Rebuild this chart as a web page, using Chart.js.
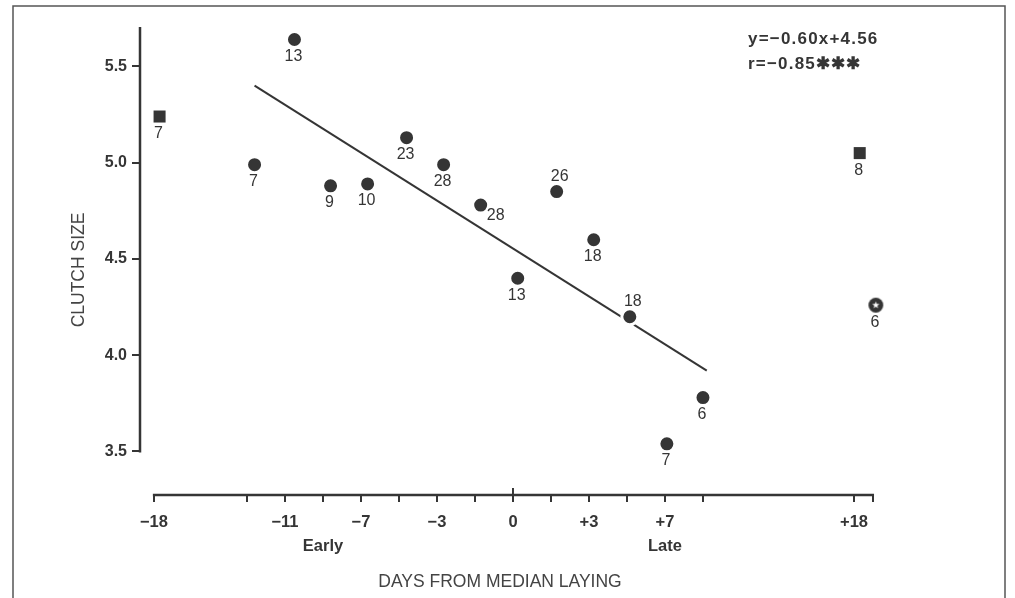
<!DOCTYPE html>
<html>
<head>
<meta charset="utf-8">
<script src="https://cdn.jsdelivr.net/npm/chart.js@4.4.1/dist/chart.umd.min.js"></script>
<style>
html,body{margin:0;padding:0;background:#fff;overflow:hidden}
#wrap{position:relative;width:1015px;height:598px}
</style>
</head>
<body>
<div id="wrap"><canvas id="c" width="1015" height="598"></canvas></div>
<script>
// x values are positions on the printed axis (1 unit = half of one tick interval, 0 = median laying date)
const mainX = [-13.6, -11.5, -9.6, -7.65, -5.6, -3.65, -1.7, 0.25, 2.3, 4.25, 6.15, 8.1, 10.0];
const mainY = [4.99, 5.64, 4.88, 4.89, 5.13, 4.99, 4.78, 4.40, 4.85, 4.60, 4.20, 3.54, 3.78];
const mainN = [7, 13, 9, 10, 23, 28, 28, 13, 26, 18, 18, 7, 6];
const mainLabelSide = ['below','below','below','below','below','below','right','below','above','below','above','below','below'];

const edgeX = [-18.6, 18.25];
const edgeY = [5.24, 5.05];
const edgeN = [7, 8];
const edgeLabelSide = ['below','below'];

const starX = [19.1];
const starY = [4.26];
const starN = [6];
const starLabelSide = ['below'];

const fitX = [-13.6, 10.2];
const fitY = [5.40, 3.92];

const xTickValues = [-18.9, -14, -12, -10, -8, -6, -4, -2, 0, 2, 4, 6, 8, 10, 17.95, 18.95];
const xTickLabels = ['−18', '', '−11', ['', 'Early'], '−7', '', '−3', '', '0', '', '+3', '', ['+7', 'Late'], '', '+18', ''];
const yTickValues = [3.5, 4.0, 4.5, 5.0, 5.5];
const yTickLabels = ['3.5', '4.0', '4.5', '5.0', '5.5'];

const equationLines = ['y=−0.60x+4.56', 'r=−0.85✱✱✱'];
const xTitle = 'DAYS FROM MEDIAN LAYING';
const yTitle = 'CLUTCH SIZE';

const FONT = '"Liberation Sans", Arial, Helvetica, sans-serif';
const INK = '#353535';

function toPoints(xs, ys) { return xs.map((x, i) => ({x: x, y: ys[i]})); }

function makeStarPoint() {
  const c = document.createElement('canvas');
  c.width = 17; c.height = 17;
  const g = c.getContext('2d');
  g.fillStyle = INK;
  g.beginPath(); g.arc(8.5, 8.5, 7.4, 0, Math.PI * 2); g.fill();
  g.fillStyle = '#fff';
  g.beginPath();
  for (let i = 0; i < 10; i++) {
    const r = i % 2 ? 1.6 : 3.8;
    const a = -Math.PI / 2 + i * Math.PI / 5;
    g.lineTo(8.5 + r * Math.cos(a), 8.5 + r * Math.sin(a));
  }
  g.closePath(); g.fill();
  return c;
}

const decor = {
  id: 'decor',
  beforeDraw(chart) {
    const ctx = chart.ctx;
    ctx.save();
    ctx.fillStyle = '#fff';
    ctx.fillRect(0, 0, chart.width, chart.height);
    ctx.strokeStyle = '#555';
    ctx.lineWidth = 1.5;
    ctx.strokeRect(13, 6, 992, 700);
    ctx.restore();
  },
  afterDraw(chart) {
    const ctx = chart.ctx;
    const xs = chart.scales.x, ys = chart.scales.y, ca = chart.chartArea;
    ctx.save();
    ctx.strokeStyle = INK;
    ctx.lineWidth = 2.5;
    ctx.lineCap = 'butt';
    // y axis line
    ctx.beginPath();
    ctx.moveTo(ca.left, ys.getPixelForValue(yTickValues[0]) + 1);
    ctx.lineTo(ca.left, ca.top);
    ctx.stroke();
    // x axis line
    ctx.beginPath();
    ctx.moveTo(xs.getPixelForValue(xTickValues[0]) - 1, ca.bottom);
    ctx.lineTo(xs.getPixelForValue(xTickValues[xTickValues.length - 1]) + 1, ca.bottom);
    ctx.stroke();
    // upward stub at 0
    ctx.lineWidth = 2;
    ctx.beginPath();
    ctx.moveTo(xs.getPixelForValue(0), ca.bottom);
    ctx.lineTo(xs.getPixelForValue(0), ca.bottom - 7);
    ctx.stroke();

    // point count labels
    ctx.fillStyle = INK;
    ctx.font = '16px ' + FONT;
    ctx.textAlign = 'center';
    ctx.textBaseline = 'middle';
    chart.data.datasets.forEach((ds, di) => {
      if (!ds.counts) return;
      const meta = chart.getDatasetMeta(di);
      meta.data.forEach((el, i) => {
        const side = ds.sides[i];
        let dx = -1, dy = 17;
        if (side === 'above') { dx = 3; dy = -15; }
        if (side === 'right') { dx = 15; dy = 11; }
        ctx.fillText(String(ds.counts[i]), el.x + dx, el.y + dy);
      });
    });

    // axis titles
    ctx.font = '17.5px ' + FONT;
    ctx.fillStyle = '#444';
    ctx.fillText(xTitle, 500, 582);
    ctx.save();
    ctx.translate(79.5, 270);
    ctx.rotate(-Math.PI / 2);
    ctx.fillText(yTitle, 0, 0);
    ctx.restore();

    // equation
    ctx.fillStyle = INK;
    ctx.font = 'bold 17px ' + FONT;
    ctx.textAlign = 'left';
    try { ctx.letterSpacing = '1.2px'; } catch (e) {}
    ctx.fillText(equationLines[0], 748, 39);
    ctx.fillText(equationLines[1], 748, 64);
    ctx.restore();
  }
};

new Chart(document.getElementById('c'), {
  type: 'scatter',
  data: {
    datasets: [
      {
        data: toPoints(mainX, mainY), counts: mainN, sides: mainLabelSide,
        pointStyle: 'circle', pointRadius: 8, pointHoverRadius: 8,
        backgroundColor: INK, borderColor: '#fff', borderWidth: 3
      },
      {
        data: toPoints(edgeX, edgeY), counts: edgeN, sides: edgeLabelSide,
        pointStyle: 'rect', pointRadius: 8.5, pointHoverRadius: 8.5,
        backgroundColor: INK, borderColor: INK, borderWidth: 0
      },
      {
        data: toPoints(starX, starY), counts: starN, sides: starLabelSide,
        pointStyle: makeStarPoint(), pointRadius: 8
      },
      {
        type: 'line', data: toPoints(fitX, fitY),
        borderColor: INK, borderWidth: 2, pointRadius: 0, fill: false, tension: 0
      }
    ]
  },
  options: {
    responsive: false,
    animation: false,
    devicePixelRatio: 1,
    layout: { padding: { left: 58, right: 115, top: 27, bottom: 3 } },
    plugins: { legend: { display: false }, tooltip: { enabled: false } },
    scales: {
      x: {
        type: 'linear', min: -19.63, max: 20.37,
        afterBuildTicks: s => { s.ticks = xTickValues.map(v => ({value: v})); },
        afterFit: s => { s.height = 100; },
        ticks: {
          autoSkip: false, maxRotation: 0, minRotation: 0, padding: 8,
          color: INK, font: { family: FONT, size: 16.5, weight: 'bold', lineHeight: 1.48 },
          callback: (v, i) => xTickLabels[i]
        },
        grid: { drawOnChartArea: false, drawTicks: true, tickLength: 7, lineWidth: 2, color: INK },
        border: { display: false }
      },
      y: {
        type: 'linear', min: 3.274, max: 5.705,
        afterBuildTicks: s => { s.ticks = yTickValues.map(v => ({value: v})); },
        afterFit: s => { s.width = 82; },
        ticks: {
          padding: 5, color: INK, font: { family: FONT, size: 16, weight: 'bold' },
          callback: (v, i) => yTickLabels[i]
        },
        grid: { drawOnChartArea: false, drawTicks: true, tickLength: 8, lineWidth: 2, color: INK },
        border: { display: false }
      }
    }
  },
  plugins: [decor]
});
</script>
</body>
</html>
